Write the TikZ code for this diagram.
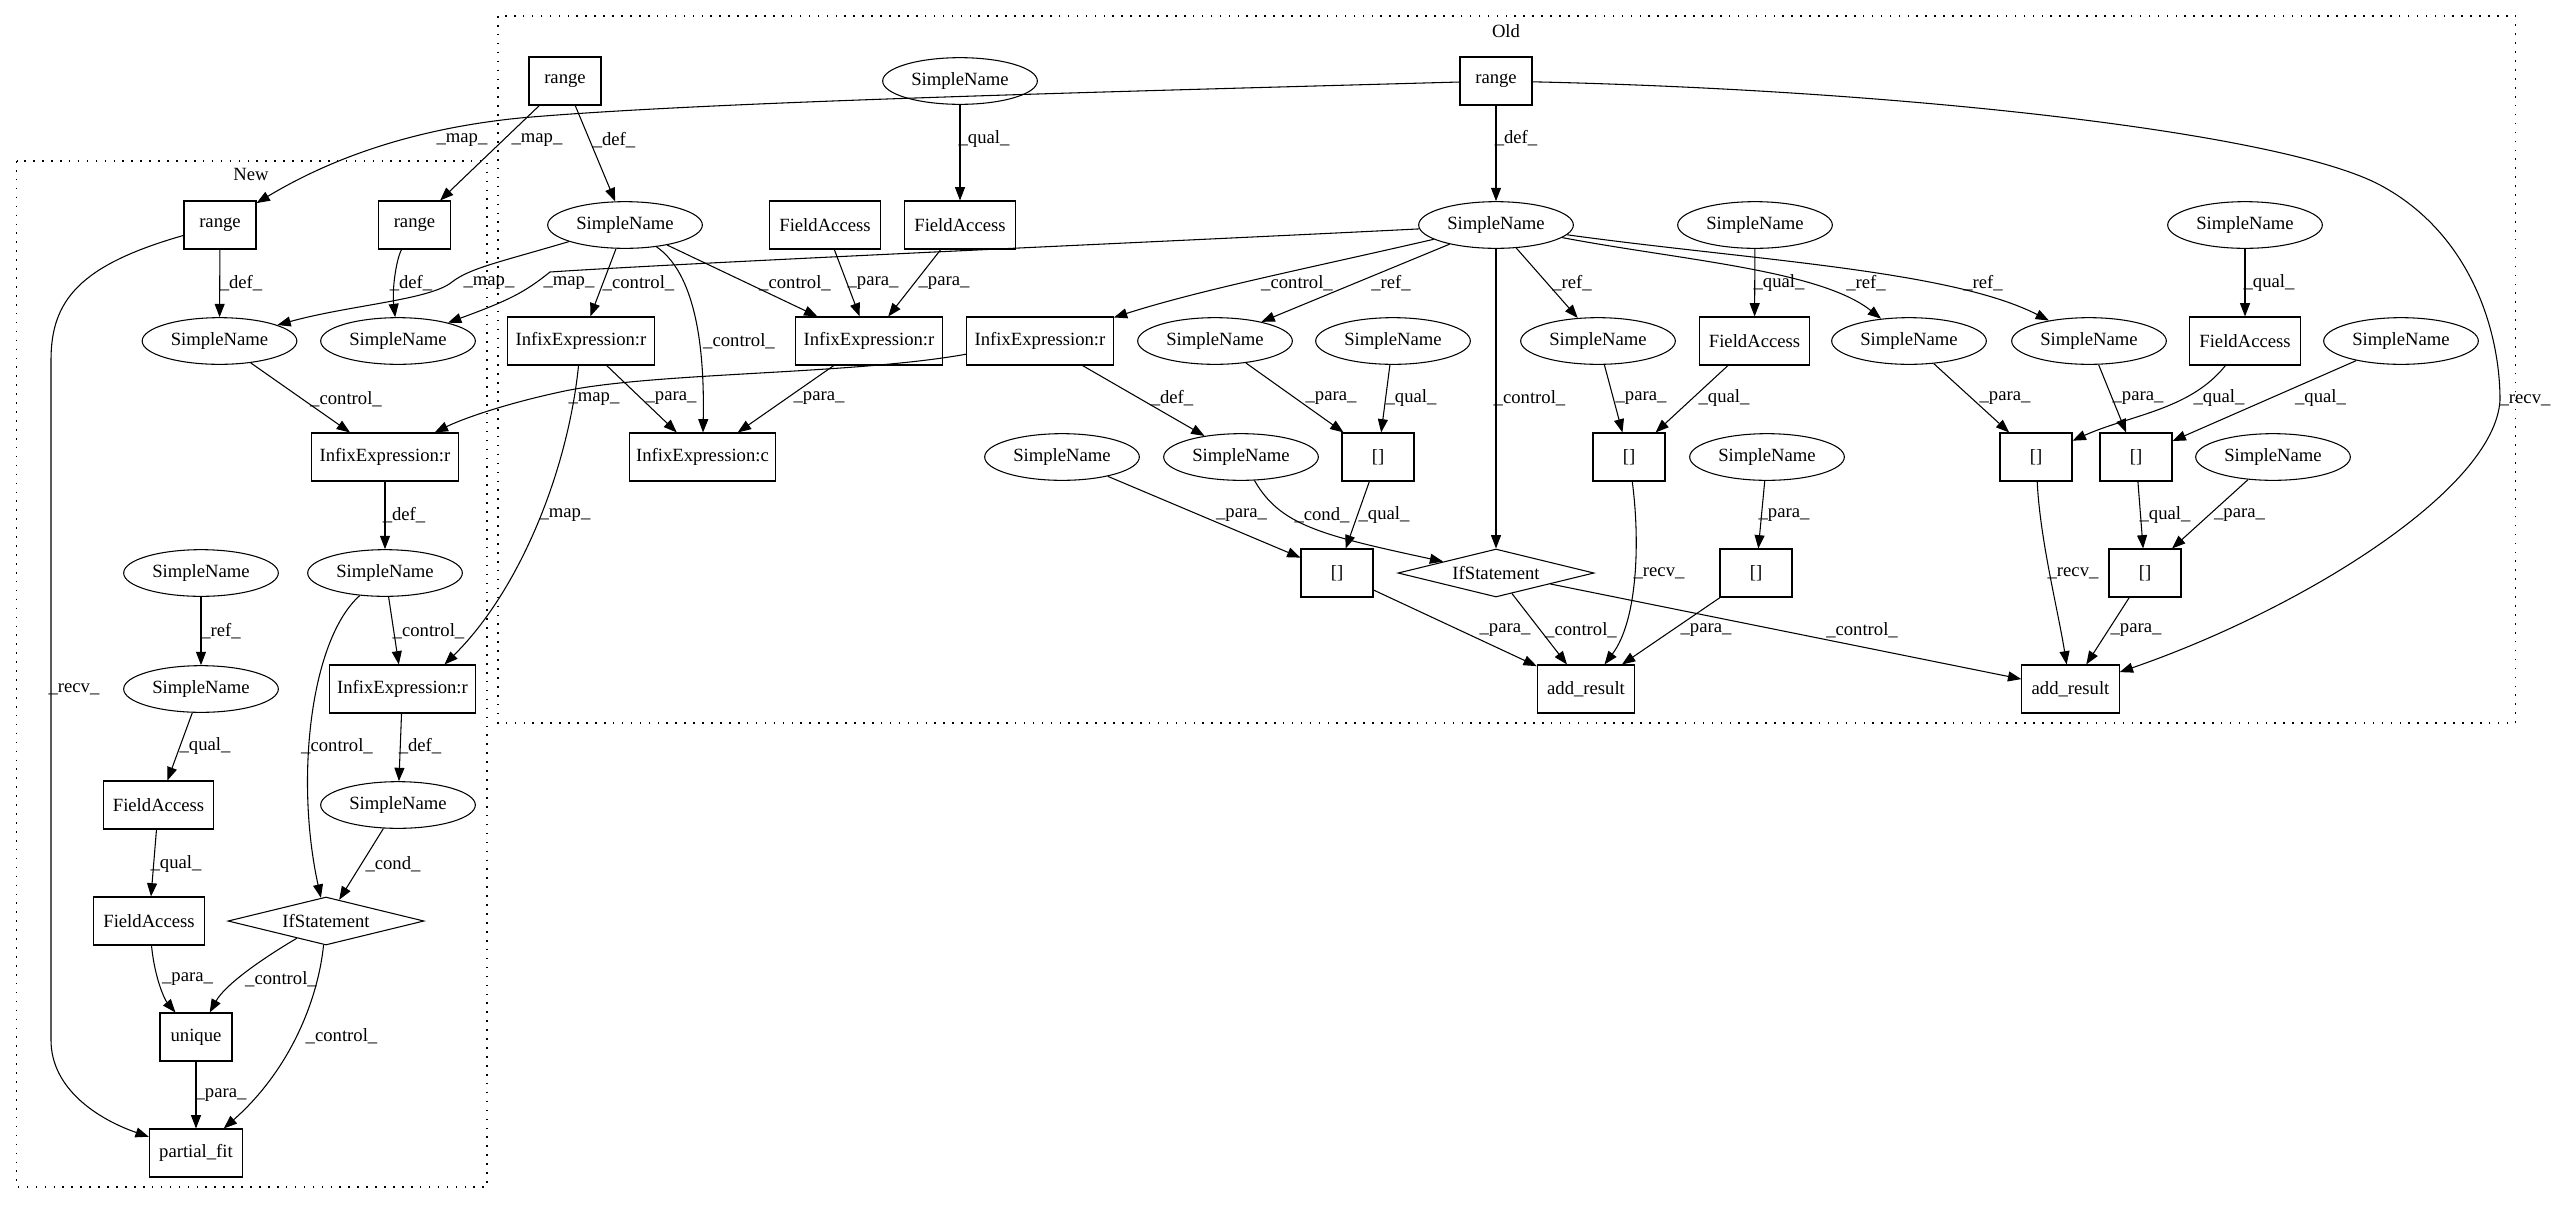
\documentclass[tikz,border=0pt]{standalone}
\usepackage{fontspec}
\setmainfont{Liberation Serif}
\usetikzlibrary{shapes.geometric,arrows.meta,calc}
\tikzset{
  box/.style={draw, rectangle, line width=0.8pt, inner sep=0pt, minimum height=36pt, minimum width=54pt},
  fabox/.style={box, minimum width=83pt},
  infbox/.style={box, minimum width=110pt},
  ell/.style={draw, ellipse, line width=0.8pt, inner sep=0pt, minimum width=116pt, minimum height=35pt},
  dia/.style={draw, diamond, line width=0.8pt, inner sep=0pt, minimum width=147pt, minimum height=36pt, shape aspect=4},
  conn/.style={-{Triangle[length=10pt,width=7.5pt]}, line width=0.8pt},
  lbl/.style={inner sep=0pt},
  clus/.style={draw, dash pattern=on 1.2pt off 5.5pt, line width=0.9pt},
}
\begin{document}
\begin{tikzpicture}[x=0.75pt, y=-0.75pt, font=\fontsize{14}{16}\selectfont]
\useasboundingbox (0,0) rectangle (2556,1204);
% clusters
\draw[clus] (498,16) rectangle (2515.5,723);
\draw[clus] (16.5,161) rectangle (487,1187);
\node[lbl] (tOld) at (1506,31) {Old};
\node[lbl] (tNew) at (251,174) {New};
% New nodes
\node[box] (nrA) at (220,225) {range};
\node[box] (nrB) at (414.5,225) {range};
\node[ell] (nsA) at (219.5,341) {SimpleName};
\node[ell] (nsB) at (398,341) {SimpleName};
\node[infbox] (niA) at (385,457) {InfixExpression:r};
\node[ell] (nsC) at (385,573) {SimpleName};
\node[ell] (nsD) at (201,573) {SimpleName};
\node[ell] (nsE) at (201,689) {SimpleName};
\node[infbox] (niB) at (402.5,689) {InfixExpression:r};
\node[fabox] (nfa1) at (158.5,805) {FieldAccess};
\node[ell] (nsF) at (398,805) {SimpleName};
\node[fabox] (nfa2) at (149,921) {FieldAccess};
\node[dia] (nif) at (326,921) {IfStatement};
\node[box] (nun) at (196,1037) {unique};
\node[box, minimum width=70pt] (npf) at (196,1153) {partial\_fit};
% Old nodes
\node[box] (or1) at (565,81) {range};
\node[ell] (osTop) at (960,81) {SimpleName};
\node[box] (or2) at (1496,81) {range};
\node[ell] (os1) at (625,225) {SimpleName};
\node[fabox] (ofa1) at (825,225) {FieldAccess};
\node[fabox] (ofa2) at (960,225) {FieldAccess};
\node[ell] (osM) at (1496,225) {SimpleName};
\node[ell] (osR1) at (1755,225) {SimpleName};
\node[ell] (osR2) at (2245,225) {SimpleName};
\node[infbox] (oi1) at (581,341) {InfixExpression:r};
\node[infbox] (oi2) at (869,341) {InfixExpression:r};
\node[infbox] (oi3) at (1040,341) {InfixExpression:r};
\node[ell] (os2) at (1215,341) {SimpleName};
\node[ell] (os3) at (1393,341) {SimpleName};
\node[ell] (os4) at (1598,341) {SimpleName};
\node[fabox] (ofa3) at (1754.5,341) {FieldAccess};
\node[ell] (os5) at (1909,341) {SimpleName};
\node[ell] (os6) at (2089,341) {SimpleName};
\node[fabox] (ofa4) at (2245,341) {FieldAccess};
\node[ell] (os7) at (2401,341) {SimpleName};
\node[infbox] (oic) at (702.5,457) {InfixExpression:c};
\node[ell] (os8) at (1062,457) {SimpleName};
\node[ell] (os9) at (1241,457) {SimpleName};
\node[box] (ob1) at (1378,457) {[]};
\node[box] (ob2) at (1629,457) {[]};
\node[ell] (os10) at (1767,457) {SimpleName};
\node[box] (ob3) at (2036,457) {[]};
\node[box] (ob4) at (2136,457) {[]};
\node[ell] (os11) at (2273,457) {SimpleName};
\node[box] (ob5) at (1337,573) {[]};
\node[dia] (oif) at (1496,573) {IfStatement};
\node[box] (ob6) at (1756,573) {[]};
\node[box] (ob7) at (2145,573) {[]};
\node[box, minimum width=73pt] (oa1) at (1586,689) {add\_result};
\node[box, minimum width=73pt] (oa2) at (2070.5,689) {add\_result};
% New edges
\draw[conn] (or1) -- (nrB) node[lbl, at={(537,140)}] (l1) {\_map\_};
\draw[conn] (or2) .. controls (1100,92) and (700,102) .. (520,118) .. controls (400,130) and (320,165) .. (nrA) node[lbl, at={(462,140)}] (l2) {\_map\_};
\draw[conn] (nrA) -- (nsA) node[lbl, at={(241,283)}] (l3) {\_def\_};
\draw[conn] (nrB) .. controls (396,260) and (392,290) .. (nsB) node[lbl, at={(411,283)}] (l4) {\_def\_};
\draw[conn] (os1) .. controls (500,262) and (470,268) .. (452,282) .. controls (430,300) and (350,305) .. (nsA) node[lbl, at={(489,283)}] (l5) {\_map\_};
\draw[conn] (osM) .. controls (1200,240) and (700,262) .. (550,272) .. controls (525,292) and (510,300) .. (nsB) node[lbl, at={(569,283)}] (l6) {\_map\_};
\draw[conn] (nsA) -- (niA) node[lbl, at={(346,399)}] (l7) {\_control\_};
\draw[conn] (oi3) .. controls (850,375) and (650,372) .. (560,392) .. controls (500,405) and (460,420) .. (niA) node[lbl, at={(594,399)}] (l8) {\_map\_};
\draw[conn] (oi1) .. controls (568,470) and (520,590) .. ($(niB.north)+(42,0)$) node[lbl, at={(565,515)}] (l9) {\_map\_};
\draw[conn] (niA) -- (nsC) node[lbl, at={(404,515)}] (l10) {\_def\_};
\draw[conn] (nsD) -- (nsE) node[lbl, at={(221,631)}] (l11) {\_ref\_};
\draw[conn] (nsC) -- (niB) node[lbl, at={(428.5,631)}] (l12) {\_control\_};
\draw[conn] (nsC) .. controls (310,640) and (295,780) .. (nif) node[lbl, at={(337,746)}] (l13) {\_control\_};
\draw[conn] (niB) -- (nsF) node[lbl, at={(420,746)}] (l14) {\_def\_};
\draw[conn] (nsE) -- (nfa1) node[lbl, at={(205,746)}] (l15) {\_qual\_};
\draw[conn] (nfa1) -- (nfa2) node[lbl, at={(176,864)}] (l16) {\_qual\_};
\draw[conn] (nsF) -- (nif) node[lbl, at={(393,864)}] (l17) {\_cond\_};
\draw[conn] (nfa2) .. controls (155,980) and (165,1000) .. (nun) node[lbl, at={(187.5,979)}] (l18) {\_para\_};
\draw[conn] (nif) .. controls (260,960) and (225,985) .. (nun) node[lbl, at={(281,979)}] (l19) {\_control\_};
\draw[conn] (nif) .. controls (318,1000) and (290,1070) .. (npf) node[lbl, at={(341.5,1036)}] (l20) {\_control\_};
\draw[conn] (nun) -- (npf) node[lbl, at={(221,1095)}] (l21) {\_para\_};
\draw[conn] (nrA) .. controls (80,265) and (51,300) .. (51,360) -- (51,1040) .. controls (51,1090) and (100,1120) .. (npf) node[lbl, at={(74,689)}] (l22) {\_recv\_};
% Old edges
\draw[conn] (or1) -- (os1) node[lbl, at={(614,140)}] (m1) {\_def\_};
\draw[conn] (or2) -- (osM) node[lbl, at={(1516,138)}] (m2) {\_def\_};
\draw[conn] (or2) .. controls (1900,90) and (2280,132) .. (2380,185) .. controls (2470,233) and (2500,330) .. (2500,400) .. controls (2495,490) and (2300,610) .. (oa2) node[lbl, at={(2525,400)}] (m3) {\_recv\_};
\draw[conn] (osTop) -- (ofa2) node[lbl, at={(984,139)}] (m4) {\_qual\_};
\draw[conn] (os1) -- (oi1) node[lbl, at={(638.5,283)}] (m5) {\_control\_};
\draw[conn] (os1) .. controls (690,270) and (705,330) .. (oic) node[lbl, at={(739,341)}] (m6) {\_control\_};
\draw[conn] (os1) -- (oi2) node[lbl, at={(795,283)}] (m7) {\_control\_};
\draw[conn] (ofa1) -- (oi2) node[lbl, at={(873,283)}] (m8) {\_para\_};
\draw[conn] (ofa2) -- (oi2) node[lbl, at={(944,283)}] (m9) {\_para\_};
\draw[conn] (oi1) -- (oic) node[lbl, at={(671,398)}] (m10) {\_para\_};
\draw[conn] (oi2) -- (oic) node[lbl, at={(819,398)}] (m11) {\_para\_};
\draw[conn] (osM) .. controls (1300,270) and (1200,290) .. (oi3) node[lbl, at={(1297,283)}] (m12) {\_control\_};
\draw[conn] (oi3) -- (os9) node[lbl, at={(1172,398)}] (m13) {\_def\_};
\draw[conn] (osM) -- (os2) node[lbl, at={(1391,283)}] (m14) {\_ref\_};
\draw[conn] (osM) -- (os4) node[lbl, at={(1572,283)}] (m15) {\_ref\_};
\draw[conn] (osM) -- (oif) node[lbl, at={(1529.5,398)}] (m16) {\_control\_};
\draw[conn] (osM) .. controls (1680,260) and (1820,270) .. (os5) node[lbl, at={(1866,283)}] (m17) {\_ref\_};
\draw[conn] (osM) .. controls (1750,260) and (1950,270) .. (os6) node[lbl, at={(1983,283)}] (m18) {\_ref\_};
\draw[conn] (osR1) -- (ofa3) node[lbl, at={(1779,283)}] (m19) {\_qual\_};
\draw[conn] (osR2) -- (ofa4) node[lbl, at={(2269,283)}] (m20) {\_qual\_};
\draw[conn] (os2) -- (ob1) node[lbl, at={(1331,398)}] (m21) {\_para\_};
\draw[conn] (os3) -- (ob1) node[lbl, at={(1411,398)}] (m22) {\_qual\_};
\draw[conn] (os4) -- (ob2) node[lbl, at={(1641,398)}] (m23) {\_para\_};
\draw[conn] (ofa3) -- (ob2) node[lbl, at={(1724,398)}] (m24) {\_qual\_};
\draw[conn] (os5) -- (ob3) node[lbl, at={(2005,398)}] (m25) {\_para\_};
\draw[conn] (os6) -- (ob4) node[lbl, at={(2138,398)}] (m26) {\_para\_};
\draw[conn] (ofa4) .. controls (2190,410) and (2130,415) .. (ob3) node[lbl, at={(2219,398)}] (m27) {\_qual\_};
\draw[conn] (os7) -- (ob4) node[lbl, at={(2320.5,398)}] (m28) {\_qual\_};
\draw[conn] (os8) -- (ob5) node[lbl, at={(1241.5,515)}] (m29) {\_para\_};
\draw[conn] (os9) .. controls (1280,525) and (1320,535) .. (oif) node[lbl, at={(1322,515)}] (m30) {\_cond\_};
\draw[conn] (ob1) -- (ob5) node[lbl, at={(1384,515)}] (m31) {\_qual\_};
\draw[conn] (ob2) .. controls (1640,540) and (1638,620) .. (oa1) node[lbl, at={(1659,573)}] (m32) {\_recv\_};
\draw[conn] (os10) -- (ob6) node[lbl, at={(1784,515)}] (m33) {\_para\_};
\draw[conn] (ob5) -- (oa1) node[lbl, at={(1505,630)}] (m34) {\_para\_};
\draw[conn] (oif) -- (oa1) node[lbl, at={(1581,630)}] (m35) {\_control\_};
\draw[conn] (ob6) -- (oa1) node[lbl, at={(1706,630)}] (m36) {\_para\_};
\draw[conn] (oif) -- (oa2) node[lbl, at={(1862,630)}] (m37) {\_control\_};
\draw[conn] (ob3) .. controls (2040,540) and (2058,610) .. (oa2) node[lbl, at={(2073,573)}] (m38) {\_recv\_};
\draw[conn] (ob4) -- (ob7) node[lbl, at={(2165,515)}] (m39) {\_qual\_};
\draw[conn] (os11) -- (ob7) node[lbl, at={(2239.5,515)}] (m40) {\_para\_};
\draw[conn] (ob7) -- (oa2) node[lbl, at={(2136,630)}] (m41) {\_para\_};
\end{tikzpicture}
\end{document}
